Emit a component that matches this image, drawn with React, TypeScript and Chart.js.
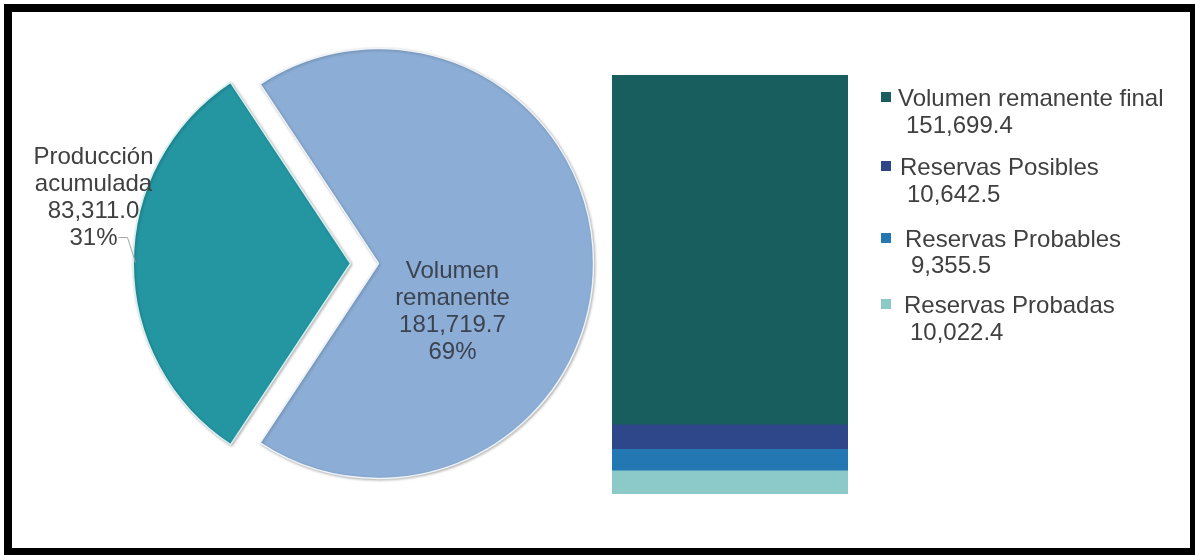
import React, { useEffect, useRef } from "react";
import { Chart, registerables } from "chart.js";

Chart.register(...registerables);

// ---------- data ----------
const pieLabelLines: string[][] = [["Producción", "acumulada"], ["Volumen", "remanente"]];
const pieValues: number[] = [83311.0, 181719.7];
const pieColors: string[] = ["#2396a1", "#8caed6"];
const pieBorders: string[] = ["#d6eff1", "#eef3f9"];

// bottom -> top of the stacked bar
const barLabels: string[] = ["Reservas Probadas", "Reservas Probables", "Reservas Posibles", "Volumen remanente final"];
const barValues: number[] = [10022.4, 9355.5, 10642.5, 151699.4];
const barColors: string[] = ["#8ccaca", "#2378b4", "#2e478a", "#195e5e"];

const W = 1195;
const H = 555;
const FONT = '24px "Liberation Sans", Arial, Helvetica, sans-serif';
const TEXT = "#404040";

const fmt1 = (v: number) =>
  v.toLocaleString("en-US", { minimumFractionDigits: 1, maximumFractionDigits: 1 });

const pieTotal = pieValues.reduce((a, b) => a + b, 0);
const barTotal = barValues.reduce((a, b) => a + b, 0);

const shadowPlugin = {
  id: "sliceShadow",
  beforeDatasetDraw(chart: any) {
    const ctx = chart.ctx;
    ctx.save();
    ctx.shadowColor = "rgba(0,0,0,0.28)";
    ctx.shadowBlur = 3;
    ctx.shadowOffsetX = 1;
    ctx.shadowOffsetY = 1;
  },
  afterDatasetDraw(chart: any) {
    chart.ctx.restore();
  },
};

const pieLabelPlugin = {
  id: "pieLabels",
  afterDatasetsDraw(chart: any) {
    const ctx = chart.ctx;
    const arcs = chart.getDatasetMeta(0).data;
    const cx = arcs[0].x;
    const cy = arcs[0].y;
    const lh = 27;
    const blocks = pieValues.map((v, i) => [
      ...pieLabelLines[i],
      fmt1(v),
      Math.round((v / pieTotal) * 100) + "%",
    ]);
    const anchors = [
      { x: cx - 285, y: cy - 100, color: "#404040" },
      { x: cx + 74, y: cy + 14, color: "#3b4250" },
    ];
    ctx.save();
    ctx.font = FONT;
    ctx.textAlign = "center";
    ctx.textBaseline = "alphabetic";
    blocks.forEach((lines, i) => {
      ctx.fillStyle = anchors[i].color;
      lines.forEach((t, j) => ctx.fillText(t, anchors[i].x, anchors[i].y + j * lh));
    });
    // leader line for the outside label
    ctx.strokeStyle = "#a6a6a6";
    ctx.lineWidth = 1;
    ctx.beginPath();
    ctx.moveTo(cx - 260, cy - 26);
    ctx.lineTo(cx - 251, cy - 26);
    ctx.lineTo(cx - 243, cy - 1);
    ctx.stroke();
    ctx.restore();
  },
};

const legendPlugin = {
  id: "sideLegend",
  afterDraw(chart: any) {
    const ctx = chart.ctx;
    // rows top -> bottom: reverse of stacking order
    const order = barLabels.map((_, i) => i).reverse();
    const sqY = [92, 161, 233, 299];
    const nameX = [898, 900, 905, 904];
    const nameY = [106, 175, 247, 313];
    const valX = [906, 907, 911, 910];
    const valY = [133, 202, 273, 340];
    ctx.save();
    ctx.font = FONT;
    ctx.textAlign = "left";
    ctx.textBaseline = "alphabetic";
    order.forEach((idx, r) => {
      ctx.fillStyle = barColors[idx];
      ctx.fillRect(881, sqY[r], 10, 10);
      ctx.fillStyle = TEXT;
      ctx.fillText(barLabels[idx], nameX[r], nameY[r]);
      ctx.fillText(fmt1(barValues[idx]), valX[r], valY[r]);
    });
    ctx.restore();
  },
};

export default function App() {
  const pieRef = useRef<HTMLCanvasElement | null>(null);
  const barRef = useRef<HTMLCanvasElement | null>(null);

  useEffect(() => {
    const share = pieValues[0] / pieTotal;
    const rotation = 270 - share * 180;
    const pie = new Chart(pieRef.current as HTMLCanvasElement, {
      type: "pie",
      data: {
        labels: pieLabelLines.map((l) => l.join(" ")),
        datasets: [
          {
            data: pieValues,
            backgroundColor: pieColors,
            borderColor: pieBorders,
            borderWidth: 1.5,
            offset: [112, 0],
            radius: 215,
            rotation,
          } as any,
        ],
      },
      options: {
        animation: false,
        responsive: false,
        maintainAspectRatio: false,
        events: [],
        rotation,
        layout: { padding: { left: 0, right: 438, top: 0, bottom: 28 } },
        plugins: { legend: { display: false }, tooltip: { enabled: false } },
      } as any,
      plugins: [shadowPlugin, pieLabelPlugin],
    });

    const bar = new Chart(barRef.current as HTMLCanvasElement, {
      type: "bar",
      data: {
        labels: [""],
        datasets: barLabels.map((label, i) => ({
          label,
          data: [barValues[i]],
          backgroundColor: barColors[i],
          borderWidth: 0,
          barPercentage: 1,
          categoryPercentage: 1,
        })),
      },
      options: {
        animation: false,
        responsive: false,
        maintainAspectRatio: false,
        events: [],
        layout: { padding: { left: 612, right: 347, top: 75, bottom: 61 } },
        scales: {
          x: { display: false, stacked: true },
          y: { display: false, stacked: true, min: 0, max: barTotal },
        },
        plugins: { legend: { display: false }, tooltip: { enabled: false } },
      },
      plugins: [legendPlugin],
    });

    return () => {
      pie.destroy();
      bar.destroy();
    };
  }, []);

  const abs: React.CSSProperties = { position: "absolute", left: 0, top: 0, display: "block" };

  return (
    <div
      style={{
        position: "fixed",
        left: 0,
        top: 0,
        width: W,
        height: H,
        overflow: "hidden",
        background: "#ffffff",
      }}
    >
      <div
        style={{
          position: "absolute",
          left: 4,
          top: 4,
          width: 1194,
          height: 552,
          border: "8px solid #000",
          boxSizing: "border-box",
        }}
      />
      <canvas ref={pieRef} width={W} height={H} style={{ ...abs, width: W, height: H }} />
      <canvas ref={barRef} width={W} height={H} style={{ ...abs, width: W, height: H }} />
    </div>
  );
}
